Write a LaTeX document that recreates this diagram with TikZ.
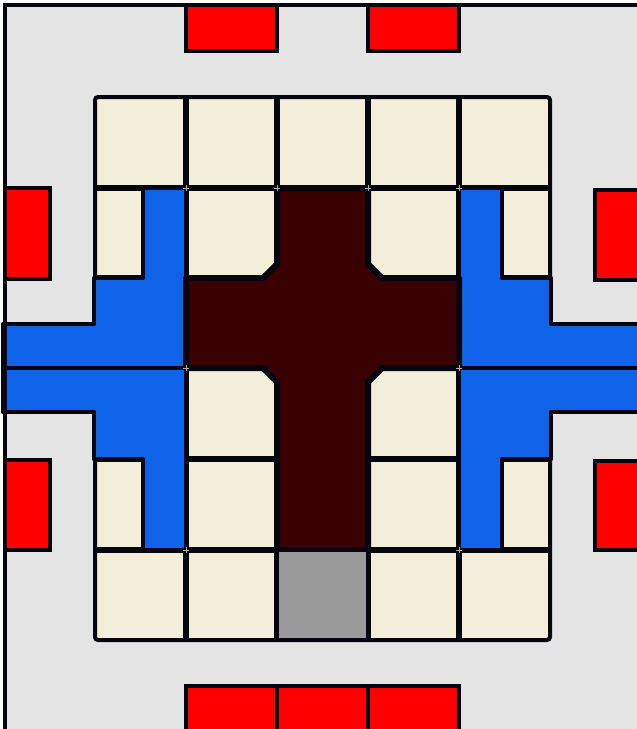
\documentclass[tikz,border=0pt]{standalone}
\usetikzlibrary{calc}
\definecolor{bggray}{HTML}{E4E4E4}
\definecolor{cream}{HTML}{F3EED9}
\definecolor{myblue}{HTML}{0F63E8}
\definecolor{myred}{HTML}{FF0000}
\definecolor{maroon}{HTML}{380000}
\definecolor{cellgray}{HTML}{9A9A9A}
\definecolor{ink}{HTML}{05050F}
\definecolor{tick}{HTML}{B0B0B0}
\tikzset{
  bgbox/.style={fill=bggray, draw=ink, line width=4pt},
  redbox/.style={fill=myred, draw=ink, line width=3.2pt},
  gridline/.style={draw=ink, line width=6pt},
  frame/.style={draw=ink, line width=4pt, rounded corners=3pt},
  blueshape/.style={fill=myblue, draw=ink, line width=4.5pt, line join=round},
  crossshape/.style={fill=maroon, draw=ink, line width=6pt, line join=round},
  grayshape/.style={fill=cellgray, draw=ink, line width=4pt},
  plusmark/.style={draw=tick, line width=1pt}
}
\begin{document}
\begin{tikzpicture}[x=1pt,y=-1pt]
\useasboundingbox (0,0) rectangle (637,729);
\begin{scope}
\clip (0,0) rectangle (637,729);
% background panel
\path[bgbox] (5,5) rectangle (660,760);
% red boxes
\path[redbox] (186,5) rectangle (277,51);
\path[redbox] (368,5) rectangle (459,51);
\path[redbox] (5,188) rectangle (50,279);
\path[redbox] (5,460) rectangle (50,550);
\path[redbox] (595,190) rectangle (650,280);
\path[redbox] (595,461) rectangle (650,550);
\path[redbox] (186,686) rectangle (277,740);
\path[redbox] (277,686) rectangle (368,740);
\path[redbox] (368,686) rectangle (459,740);
% grid of cream cells
\path[fill=cream, rounded corners=3pt] (95,97) rectangle (550,640);
\foreach \x in {186,277,368,459} \path[gridline] (\x,97) -- (\x,640);
\foreach \y in {188,278,368,459,550} \path[gridline] (95,\y) -- (550,\y);
\path[frame] (95,97) rectangle (550,640);
% blue shapes
\path[blueshape] (143,188) -- (186,188) -- (186,368) -- (3,368) -- (3,324) -- (94,324) -- (94,278) -- (143,278) -- cycle;
\path[blueshape] (3,368) -- (186,368) -- (186,550) -- (143,550) -- (143,459) -- (94,459) -- (94,412) -- (3,412) -- cycle;
\path[blueshape] (502,188) -- (459,188) -- (459,368) -- (650,368) -- (650,324) -- (551,324) -- (551,278) -- (502,278) -- cycle;
\path[blueshape] (650,368) -- (459,368) -- (459,550) -- (502,550) -- (502,459) -- (551,459) -- (551,412) -- (650,412) -- cycle;
\path[draw=ink, line width=4pt] (5,3) -- (5,729);
% cross
\path[crossshape] (277,188) -- (368,188) -- (368,264) -- (382,278) -- (459,278) -- (459,368) -- (382,368) -- (368,382) -- (368,550) -- (277,550) -- (277,382) -- (263,368) -- (186,368) -- (186,278) -- (263,278) -- (277,264) -- cycle;
% gray cell
\path[grayshape] (277,550) rectangle (368,640);
% small marks at intersections
\foreach \p in {(186,188),(277,188),(368,188),(459,188),(186,368),(459,368),(186,550),(459,550)}
  \path[plusmark] \p ++(-3,0) -- ++(6,0) \p ++(0,-3) -- ++(0,6);
\end{scope}
\end{tikzpicture}
\end{document}
